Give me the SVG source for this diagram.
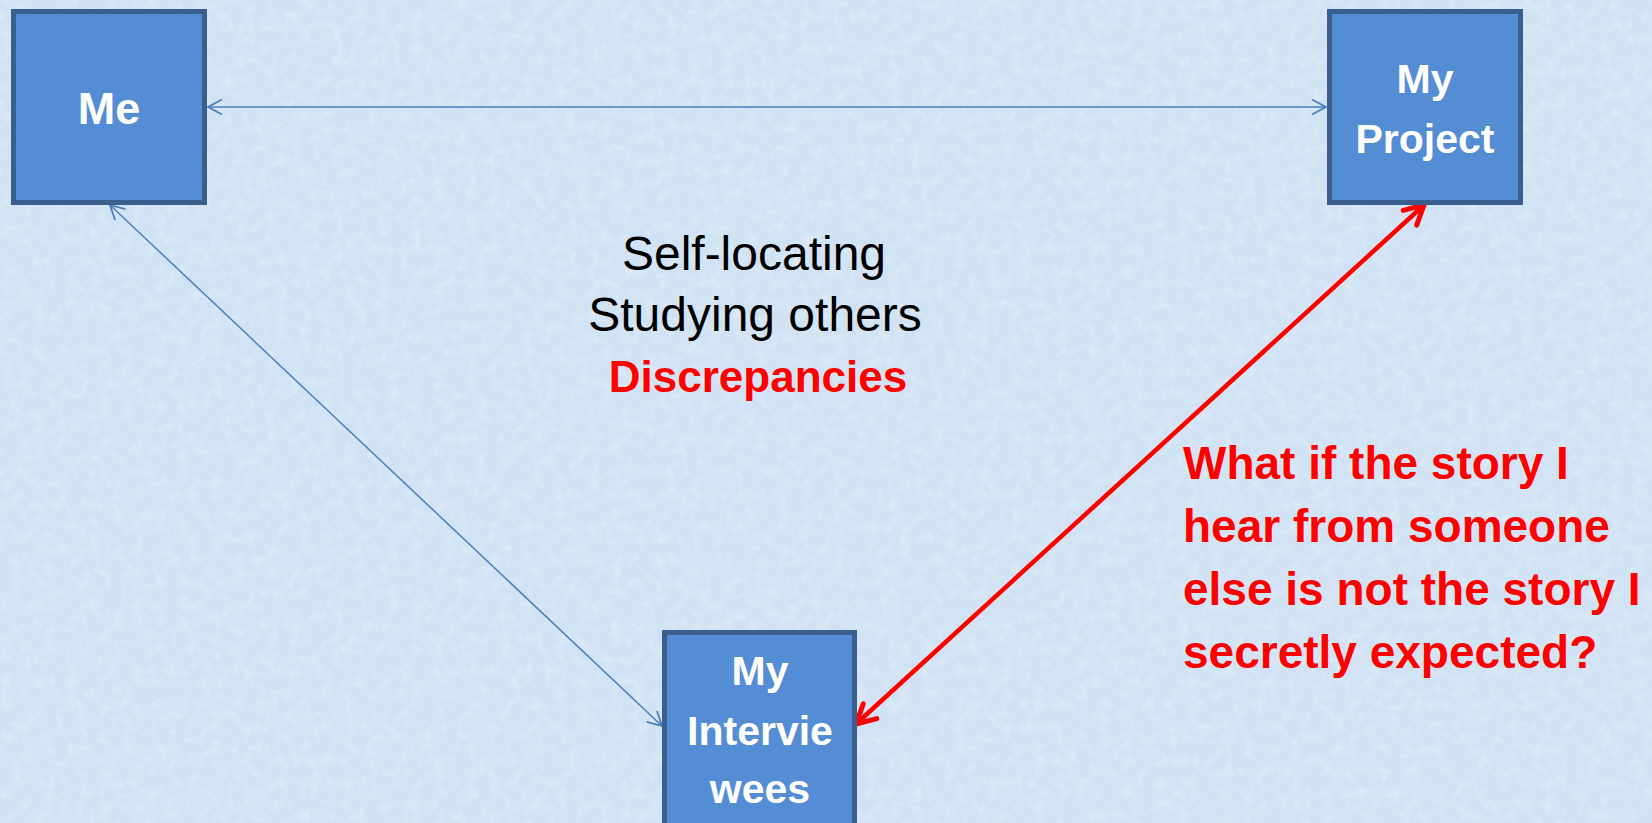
<svg xmlns="http://www.w3.org/2000/svg" width="1652" height="823" viewBox="0 0 1652 823">
<defs>
<style>
.box{fill:#548dd4;stroke:#3a5f8e;stroke-width:5}
.bt{font-family:"Liberation Sans",Arial,sans-serif;font-weight:bold;fill:#ffffff;text-anchor:middle}
.ct{font-family:"Liberation Sans",Arial,sans-serif;font-size:48px;fill:#000000;text-anchor:middle}
.cr{font-family:"Liberation Sans",Arial,sans-serif;font-size:44px;font-weight:bold;fill:#ff0000;text-anchor:middle}
.rt{font-family:"Liberation Sans",Arial,sans-serif;font-weight:bold;font-size:46px;fill:#ff0000}
.blue{stroke:#4a7ebb;stroke-width:1.5;fill:none}
.red{stroke:#ff0000;stroke-width:4.5;fill:none;stroke-linecap:round}
</style>
<marker id="ab" markerUnits="userSpaceOnUse" viewBox="-16 -10 18 20" refX="0" refY="0" markerWidth="18" markerHeight="20" orient="auto-start-reverse">
<path d="M-14,-7.5 L0,0 L-14,7.5" fill="none" stroke="#4a7ebb" stroke-width="1.8"/>
</marker>
<marker id="ar" markerUnits="userSpaceOnUse" viewBox="-24 -14 28 28" refX="0" refY="0" markerWidth="28" markerHeight="28" orient="auto-start-reverse">
<path d="M-19,-10 L0,0 L-19,10" fill="none" stroke="#ff0000" stroke-width="5" stroke-linecap="round" stroke-linejoin="round"/>
</marker>
<filter id="tex" x="0" y="0" width="100%" height="100%">
<feTurbulence type="fractalNoise" baseFrequency="0.09" numOctaves="3" seed="7" result="n"/>
<feColorMatrix in="n" type="matrix" values="0 0 0 0 1  0 0 0 0 1  0 0 0 0 1  0 0 0 1.4 -0.6"/>
</filter>
</defs>
<rect x="0" y="0" width="1652" height="823" fill="#d0e2f3"/>
<rect x="0" y="0" width="1652" height="823" fill="#ffffff" filter="url(#tex)" opacity="0.45"/>

<g id="connectors">
<line class="blue" x1="208" y1="107" x2="1326" y2="107" marker-start="url(#ab)" marker-end="url(#ab)"/>
<line class="blue" x1="110" y1="205" x2="662" y2="726" marker-start="url(#ab)" marker-end="url(#ab)"/>
<line class="red" x1="1424" y1="205" x2="856" y2="724" marker-start="url(#ar)" marker-end="url(#ar)"/>
</g>

<g id="node-me">
<rect class="box" x="13.5" y="11.5" width="191" height="191"/>
<text class="bt" x="109" y="124" font-size="45">Me</text>
</g>

<g id="node-project">
<rect class="box" x="1329.5" y="11.5" width="191" height="191"/>
<text class="bt" x="1425" y="93" font-size="41">My</text>
<text class="bt" x="1425" y="153" font-size="41">Project</text>
</g>

<g id="node-interviewees">
<rect class="box" x="664.5" y="632.5" width="190" height="200"/>
<text class="bt" x="760" y="685" font-size="41">My</text>
<text class="bt" x="760" y="745" font-size="41">Intervie</text>
<text class="bt" x="760" y="803" font-size="41">wees</text>
</g>

<g id="center-label">
<text class="ct" x="754" y="270">Self-locating</text>
<text class="ct" x="755" y="331">Studying others</text>
<text class="cr" x="758" y="392">Discrepancies</text>
</g>

<g id="question-label">
<text class="rt" x="1183" y="479">What if the story I</text>
<text class="rt" x="1183" y="542">hear from someone</text>
<text class="rt" x="1183" y="605">else is not the story I</text>
<text class="rt" x="1183" y="668">secretly expected?</text>
</g>
</svg>
